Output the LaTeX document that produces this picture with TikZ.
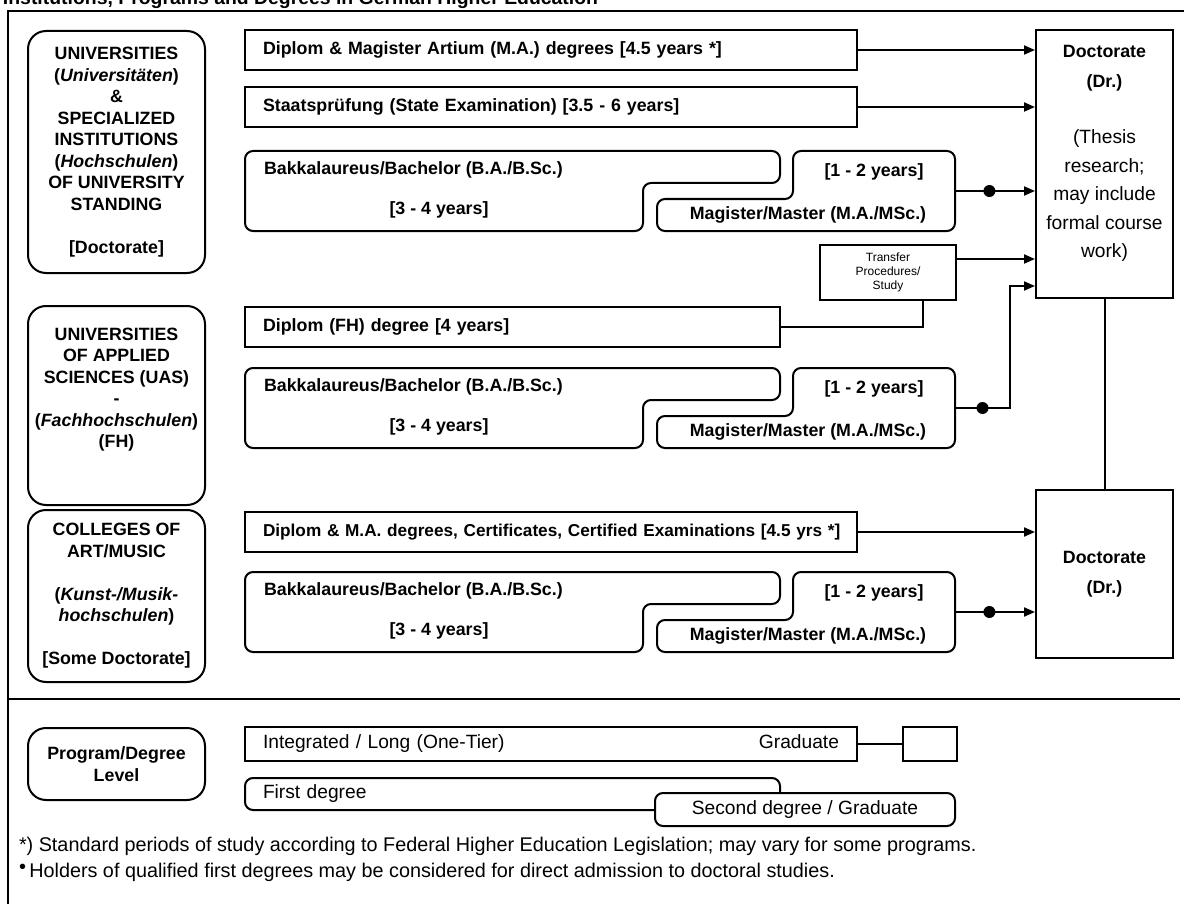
\documentclass[tikz,border=0pt]{standalone}
\usepackage{fontspec}
\setmainfont{Liberation Sans}
\usetikzlibrary{arrows.meta,positioning,calc}
\newcommand{\medfont}{\fontsize{8.9}{10.75}\selectfont\bfseries}
\newcommand{\regfont}{\fontsize{9.6}{14.2}\selectfont}
\newcommand{\notefont}{\fontsize{9.9}{12}\selectfont}
\newcommand{\smallfont}{\fontsize{6}{7}\selectfont}
\newcommand{\titlefont}{\fontsize{9.7}{11}\selectfont\bfseries}
% bachelor + master pair, #1 = top edge, #2 = name prefix
\newcommand{\twotier}[2]{%
  \draw[tier] (245,#1) -- (780,#1) -- (780,#1+32) -- (643,#1+32) -- (643,#1+80) -- (245,#1+80) -- cycle;
  \draw[tier] (793,#1) -- (955,#1) -- (955,#1+80) -- (657,#1+80) -- (657,#1+48) -- (793,#1+48) -- cycle;
  \node[med, anchor=west] (#2ba) at (263,#1+19) {Bakkalaureus/Bachelor (B.A./B.Sc.)};
  \node[med] (#2bayrs) at (439,#1+59) {[3 - 4 years]};
  \node[med] (#2mayrs) at (874,#1+21) {[1 - 2 years]};
  \node[med] (#2ma) at (808,#1+64) {Magister/Master (M.A./MSc.)};
  \coordinate (#2m) at (955,#1+40);
}

\begin{document}
\begin{tikzpicture}[x=0.5pt, y=-0.5pt, line width=1pt,
  inst/.style={draw, rounded corners=9pt, align=center, minimum width=88.5pt, font=\medfont},
  prog/.style={draw, align=left, text width=288pt, inner xsep=9pt, inner ysep=0pt, minimum height=20pt, font=\medfont},
  tier/.style={rounded corners=4pt},
  doc/.style={draw, minimum width=68.5pt},
  med/.style={font=\medfont, inner sep=0pt},
  reg/.style={font=\regfont, inner sep=0pt},
  dot/.style={circle, fill, inner sep=0pt, minimum size=6pt},
  >={Triangle[length=5.5pt,width=4.5pt]}]
  \useasboundingbox (0,0) rectangle (1184,904);
  \node[font=\titlefont, anchor=base west, inner sep=0pt] (title) at (2,5)
    {Institutions, Programs and Degrees in German Higher Education};
  \draw (1200,11) -- (8,11) -- (8,920);
  \draw (8,699) -- (1180,699);

  % institutions
  \node[inst, minimum height=121pt] (univ) at (116.5,152)
    {UNIVERSITIES\\(\textit{Universitäten})\\\&\\SPECIALIZED\\INSTITUTIONS\\(\textit{Hochschulen})\\OF UNIVERSITY\\STANDING\\[10.75pt]{[Doctorate]}};
  \node[inst, minimum height=99.5pt] (uas) at (116.5,405.5) {};
  \node[med, align=center, anchor=north] (uastxt) at (116.5,327)
    {UNIVERSITIES\\OF APPLIED\\SCIENCES (UAS)\\-\\(\textit{Fachhochschulen})\\(FH)};
  \node[inst, minimum height=86pt] (coll) at (116.5,596)
    {COLLEGES OF\\ART/MUSIC\\[10.75pt](\textit{Kunst-/Musik-}\\\textit{hochschulen})\\[10.75pt]{[Some Doctorate]}};

  % programs
  \node[prog] (udip) at (551,50) {Diplom \& Magister Artium (M.A.) degrees [4.5 years *]};
  \node[prog] (ustaat) at (551,107) {Staatsprüfung (State Examination) [3.5 - 6 years]};
  \twotier{151}{u}
  \node[prog, text width=249.5pt] (fdip) at (512.5,326.5) {Diplom (FH) degree [4 years]};
  \twotier{368}{f}
  \node[prog, font=\fontsize{8.6}{10.75}\selectfont\bfseries] (kdip) at (551,532)
    {\mbox{Diplom \& M.A. degrees, Certificates, Certified Examinations [4.5 yrs *]}};
  \twotier{572}{k}
  \node[draw, font=\smallfont, align=center, minimum width=68pt, minimum height=27.5pt, inner sep=0pt] (tr) at (888,272.5)
    {Transfer\\Procedures/\\Study};

  % doctorates
  \node[doc, minimum height=134pt] (udoc) at (1104.5,164) {};
  \node[med, align=center, anchor=north, font=\fontsize{8.9}{15}\selectfont\bfseries] (udochead) at (1104.5,44) {Doctorate\\(Dr.)};
  \node[reg, align=center, anchor=north] (udocnote) at (1104.5,129)
    {(Thesis\\research;\\may include\\formal course\\work)};
  \node[doc, minimum height=84pt, align=center, font=\fontsize{8.9}{15}\selectfont\bfseries] (kdoc) at (1104.5,574) {Doctorate\\(Dr.)};

  % connectors
  \draw[->] (udip.east) -- (udip.east -| udoc.west);
  \draw[->] (ustaat.east) -- (ustaat.east -| udoc.west);
  \draw[->] (um) -- node[dot, pos=0.43] {} (um -| udoc.west);
  \draw[->] ([yshift=6.75pt]tr.east) -- ([yshift=6.75pt]tr.east -| udoc.west);
  \draw (fdip.east) -| ([xshift=17.5pt]tr.south);
  \coordinate (fbend) at (1010,408);
  \draw[->] (fm) -- node[dot] {} (fbend) |- ([yshift=6.5pt]udoc.south west);
  \draw (udoc.south) -- (kdoc.north);
  \draw[->] (kdip.east) -- (kdip.east -| kdoc.west);
  \draw[->] (km) -- node[dot, pos=0.43] {} (km -| kdoc.west);

  % legend
  \node[inst, minimum height=36pt] (lvl) at (116.5,764) {Program/Degree\\Level};
  \node[prog, font=\regfont, minimum height=17pt] (integ) at (551,744) {Integrated / Long (One-Tier)\hfill Graduate};
  \node[draw, minimum width=27pt, minimum height=17pt] (gbox) at (930,744) {};
  \draw (integ) -- (gbox);
  \node[draw, rounded corners=4pt, minimum width=267.5pt, minimum height=16pt, text width=249.5pt, inner xsep=9pt, inner ysep=0pt, align=left, font=\regfont] (first) at (512.5,794) {First degree};
  \node[draw, fill=white, rounded corners=4pt, minimum width=150pt, minimum height=16.5pt, inner sep=0pt, font=\regfont] (second) at (805,809.5) {Second degree / Graduate};

  \node[font=\notefont, inner sep=0pt, anchor=west] (fn1) at (18,846)
    {*) Standard periods of study according to Federal Higher Education Legislation; may vary for some programs.};
  \node[font=\notefont, inner sep=0pt, anchor=west] (fn2) at (18,872)
    {\raisebox{2pt}{\fontsize{10}{10}\selectfont\textbullet}\,Holders of qualified first degrees may be considered for direct admission to doctoral studies.};
\end{tikzpicture}
\end{document}
